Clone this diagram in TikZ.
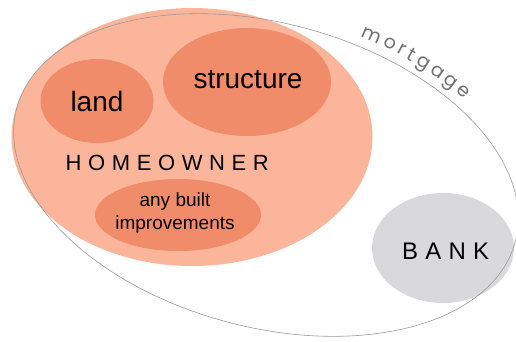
\documentclass[tikz,border=0pt]{standalone}
\usepackage{fontspec}
\setmainfont{Liberation Sans}
\newfontfamily\mortfont{Poppins}
\usetikzlibrary{shapes.geometric,decorations.text}
\definecolor{salmonbig}{HTML}{FBB59A}
\definecolor{salmonin}{HTML}{F08C6A}
\definecolor{bankgrey}{HTML}{D9D9DB}
\definecolor{linegrey}{HTML}{9A9A9A}
\definecolor{mortgrey}{HTML}{707070}
\tikzset{
  blob/.style={ellipse, inner sep=0pt, fill=#1},
  inblob/.style={blob=salmonin, text=black},
}
\begin{document}
\begin{tikzpicture}[x=1pt,y=-1pt]
\useasboundingbox (0,0) rectangle (516,341);
\node[blob=salmonbig, minimum width=361pt, minimum height=258pt] (home) at (192,137) {};
\node[inblob, minimum width=113pt, minimum height=84pt] (land) at (97,101) {};
\node[inblob, minimum width=168pt, minimum height=108pt] (struct) at (247,82) {};
\node[inblob, minimum width=166pt, minimum height=72pt] (impr) at (178,215) {};
\node[blob=bankgrey, minimum width=142pt, minimum height=110pt] (bank) at (443,248) {};
\node[ellipse, draw=linegrey, line width=0.6pt, rotate=-15, minimum width=516pt, minimum height=304pt] (mort) at (266,175) {};
\node[font=\fontsize{28}{30}\selectfont] (landt) at (97,101) {land};
\node[font=\fontsize{28}{30}\selectfont] (structt) at (248,80) {structure};
\node[font=\fontsize{19}{23}\selectfont, align=center] (imprt) at (175,213) {any built\\improvements};
\node[font=\fontsize{22}{24}\selectfont\addfontfeature{LetterSpace=30}, anchor=base west, inner sep=0pt] (homet) at (65.5,170) {HOMEOWNER};
\node[font=\fontsize{24}{26}\selectfont\addfontfeature{LetterSpace=30}, anchor=base west, inner sep=0pt] (bankt) at (402,259) {BANK};
\begin{scope}[shift={(266,175)}, y=1pt, rotate=-15]
\path[decorate, decoration={text along path, text={|\mortfont\fontsize{19}{21}\selectfont|mortgage}, text color=mortgrey, text align={fit to path}}]
  (78:268pt and 162pt) arc[start angle=78, end angle=50, x radius=268pt, y radius=162pt];
\end{scope}
\end{tikzpicture}
\end{document}
